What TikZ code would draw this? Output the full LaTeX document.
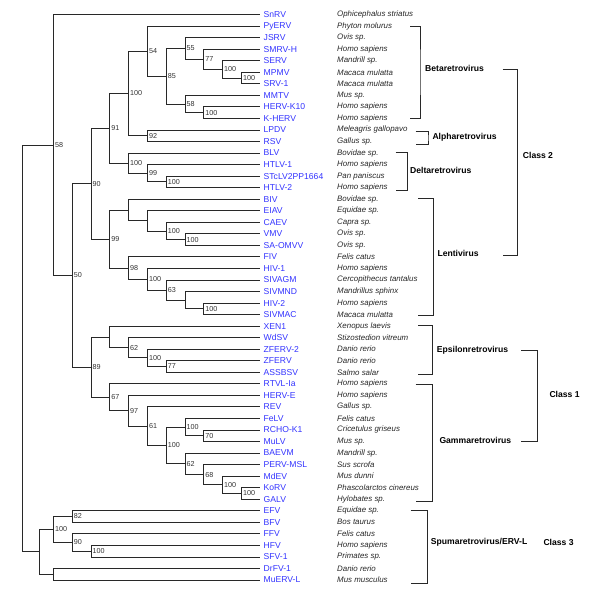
\documentclass[tikz,border=0pt]{standalone}
\usepackage{fontspec}
\setmainfont{Liberation Sans}
\definecolor{leafblue}{RGB}{51,51,255}
\definecolor{linegray}{RGB}{40,40,40}
\begin{document}
\begin{tikzpicture}[x=1pt,y=-1pt,
  leaf/.style={anchor=west,inner xsep=3.5pt,inner ysep=0pt,text=leafblue,font=\fontsize{8.6}{9}\selectfont},
  species/.style={anchor=west,inner sep=0pt,font=\fontsize{7.9}{9}\selectfont\itshape,text=black!85},
  boot/.style={anchor=west,inner sep=0.5pt,text=black!80,font=\fontsize{7.2}{8}\selectfont},
  group/.style={anchor=west,inner sep=0pt,font=\fontsize{8.6}{9}\selectfont\bfseries},
  branch/.style={draw=linegray,line width=0.75pt},
  brk/.style={draw=linegray,line width=0.75pt}]
\useasboundingbox (0,0) rectangle (602,600);

% leaves
\foreach \n/\lab/\sp [count=\i from 0] in {
 snrv/SnRV/Ophicephalus striatus,
 pyerv/PyERV/Phyton molurus,
 jsrv/JSRV/Ovis sp.,
 smrvh/SMRV-H/Homo sapiens,
 serv/SERV/Mandrill sp.,
 mpmv/MPMV/Macaca mulatta,
 srv1/SRV-1/Macaca mulatta,
 mmtv/MMTV/Mus sp.,
 hervk10/HERV-K10/Homo sapiens,
 kherv/K-HERV/Homo sapiens,
 lpdv/LPDV/Meleagris gallopavo,
 rsv/RSV/Gallus sp.,
 blv/BLV/Bovidae sp.,
 htlv1/HTLV-1/Homo sapiens,
 stclv/STcLV2PP1664/Pan paniscus,
 htlv2/HTLV-2/Homo sapiens,
 biv/BIV/Bovidae sp.,
 eiav/EIAV/Equidae sp.,
 caev/CAEV/Capra sp.,
 vmv/VMV/Ovis sp.,
 saomvv/SA-OMVV/Ovis sp.,
 fiv/FIV/Felis catus,
 hiv1/HIV-1/Homo sapiens,
 sivagm/SIVAGM/Cercopithecus tantalus,
 sivmnd/SIVMND/Mandrillus sphinx,
 hiv2/HIV-2/Homo sapiens,
 sivmac/SIVMAC/Macaca mulatta,
 xen1/XEN1/Xenopus laevis,
 wdsv/WdSV/Stizostedion vitreum,
 zferv2/ZFERV-2/Danio rerio,
 zferv/ZFERV/Danio rerio,
 assbsv/ASSBSV/Salmo salar,
 rtvl/RTVL-Ia/Homo sapiens,
 herve/HERV-E/Homo sapiens,
 rev/REV/Gallus sp.,
 felv/FeLV/Felis catus,
 rcho/RCHO-K1/Cricetulus griseus,
 mulv/MuLV/Mus sp.,
 baevm/BAEVM/Mandrill sp.,
 perv/PERV-MSL/Sus scrofa,
 mdev/MdEV/Mus dunni,
 korv/KoRV/Phascolarctos cinereus,
 galv/GALV/Hylobates sp.,
 efv/EFV/Equidae sp.,
 bfv/BFV/Bos taurus,
 ffv/FFV/Felis catus,
 hfv/HFV/Homo sapiens,
 sfv1/SFV-1/Primates sp.,
 drfv/DrFV-1/Danio rerio,
 muerv/MuERV-L/Mus musculus}
{
 \node[leaf] (\n) at (260,{14.5+11.54*\i}) {\lab};
 \node[species] (\n-sp) at (337,{14.5+11.54*\i}) {\sp};
}

% internal nodes: x levels
\def\La{53.3}\def\Lb{72.1}\def\Lc{90.9}\def\Ld{109.7}\def\Le{128.5}\def\Lf{147.3}
\def\Lg{166.1}\def\Lh{184.9}\def\Li{203.7}\def\Lj{222.5}\def\Lk{241.3}
\coordinate (root) at (22,348.38);
\coordinate (SP) at (39.3,551.83);
\coordinate (A) at (\La,144.92);
\coordinate (B) at (\Lb,275.35);
\coordinate (C) at (\Lc,183.61);
\coordinate (D) at (\Lc,367.08);
\coordinate (E) at (\Ld,128.23);
\coordinate (F) at (\Ld,238.99);
\coordinate (G) at (\Le,93.39);
\coordinate (H) at (\Le,163.08);
\coordinate (I) at (\Lf,51.10);
\coordinate (J) at (\Lf,135.67);
\coordinate (K) at (\Lg,76.17);
\coordinate (L) at (\Lh,48.40);
\coordinate (M) at (\Lh,103.94);
\coordinate (N) at (\Li,59.22);
\coordinate (O) at (\Lj,69.32);
\coordinate (P) at (\Lk,77.97);
\coordinate (Q) at (\Li,112.59);
\coordinate (R) at (\Lf,173.18);
\coordinate (S) at (\Lg,181.83);
\coordinate (T) at (\Le,209.96);
\coordinate (V) at (\Lf,220.78);
\coordinate (W) at (\Lg,230.88);
\coordinate (X) at (\Lh,239.53);
\coordinate (U) at (\Le,268.02);
\coordinate (Y) at (\Lf,279.20);
\coordinate (Z) at (\Lg,290.02);
\coordinate (AA) at (\Lh,300.12);
\coordinate (AB) at (\Li,308.77);
\coordinate (AC) at (\Ld,336.90);
\coordinate (AE) at (\Le,347.72);
\coordinate (AF) at (\Lf,357.82);
\coordinate (AG) at (\Lg,366.47);
\coordinate (AD) at (\Ld,397.26);
\coordinate (AH) at (\Le,410.74);
\coordinate (AI) at (\Lf,426.16);
\coordinate (AJ) at (\Lg,445.45);
\coordinate (AK) at (\Lh,427.06);
\coordinate (AM) at (\Li,435.71);
\coordinate (AL) at (\Lh,463.84);
\coordinate (AN) at (\Li,474.66);
\coordinate (AO) at (\Lj,484.76);
\coordinate (AP) at (\Lk,493.41);
\coordinate (AQ) at (\La,529.47);
\coordinate (AR) at (\La,574.19);
\coordinate (AS) at (\Lb,516.49);
\coordinate (AT) at (\Lb,542.46);
\coordinate (AU) at (\Lc,551.11);

% branches
\foreach \p/\c in {root/A,root/SP,
 A/snrv.west,A/B,
 B/C,B/D,
 C/E,C/F,
 E/G,E/H,
 G/I,G/J,
 I/pyerv.west,I/K,
 K/L,K/M,
 L/jsrv.west,L/N,
 N/smrvh.west,N/O,
 O/serv.west,O/P,
 P/mpmv.west,P/srv1.west,
 M/mmtv.west,M/Q,
 Q/hervk10.west,Q/kherv.west,
 J/lpdv.west,J/rsv.west,
 H/blv.west,H/R,
 R/htlv1.west,R/S,
 S/stclv.west,S/htlv2.west,
 F/T,F/U,
 T/biv.west,T/V,
 V/eiav.west,V/W,
 W/caev.west,W/X,
 X/vmv.west,X/saomvv.west,
 U/fiv.west,U/Y,
 Y/hiv1.west,Y/Z,
 Z/sivagm.west,Z/AA,
 AA/sivmnd.west,AA/AB,
 AB/hiv2.west,AB/sivmac.west,
 D/AC,D/AD,
 AC/xen1.west,AC/AE,
 AE/wdsv.west,AE/AF,
 AF/zferv2.west,AF/AG,
 AG/zferv.west,AG/assbsv.west,
 AD/rtvl.west,AD/AH,
 AH/herve.west,AH/AI,
 AI/rev.west,AI/AJ,
 AJ/AK,AJ/AL,
 AK/felv.west,AK/AM,
 AM/rcho.west,AM/mulv.west,
 AL/baevm.west,AL/AN,
 AN/perv.west,AN/AO,
 AO/mdev.west,AO/AP,
 AP/korv.west,AP/galv.west,
 SP/AQ,SP/AR,
 AQ/AS,AQ/AT,
 AS/efv.west,AS/bfv.west,
 AT/ffv.west,AT/AU,
 AU/hfv.west,AU/sfv1.west,
 AR/drfv.west,AR/muerv.west}
{ \draw[branch] (\p) |- (\c); }

% bootstrap values
\foreach \c/\v in {A/58,B/50,C/90,D/89,E/91,F/99,G/100,H/100,I/54,J/92,K/85,
 L/55,M/58,N/77,O/100,P/100,Q/100,R/99,S/100,U/98,W/100,X/100,Y/100,Z/63,
 AB/100,AD/67,AE/62,AF/100,AG/77,AH/97,AI/61,AJ/100,AK/100,AL/62,AM/70,
 AN/68,AO/100,AP/100,AQ/100,AS/82,AT/90,AU/100}
{ \node[boot] (bv-\c) at ([xshift=1pt]\c) {\v}; }

% group brackets
\coordinate (beta-t) at (410,26); \coordinate (beta-b) at (410,118.5);
\draw[brk] (beta-t) -| (420,72) |- (beta-b);
\node[group] (beta) at (425,68) {Betaretrovirus};

\coordinate (alpha-t) at (415.7,131); \coordinate (alpha-b) at (415.7,144.3);
\draw[brk] (alpha-t) -| (428,138) |- (alpha-b);
\node[group] (alpha) at (432.3,137) {Alpharetrovirus};

\coordinate (delta-t) at (395.7,152.3); \coordinate (delta-b) at (395.7,190.7);
\draw[brk] (delta-t) -| (407.3,170) |- (delta-b);
\node[group] (delta) at (410,170) {Deltaretrovirus};

\coordinate (lenti-t) at (418.3,198.3); \coordinate (lenti-b) at (418.3,315.7);
\draw[brk] (lenti-t) -| (433.3,255) |- (lenti-b);
\node[group] (lenti) at (437.3,253.5) {Lentivirus};

\coordinate (eps-t) at (418.3,325.7); \coordinate (eps-b) at (418.3,374.3);
\draw[brk] (eps-t) -| (432.7,350) |- (eps-b);
\node[group] (eps) at (436.7,350) {Epsilonretrovirus};

\coordinate (gamma-t) at (415.7,384.3); \coordinate (gamma-b) at (415.7,501.7);
\draw[brk] (gamma-t) -| (432.3,440) |- (gamma-b);
\node[group] (gamma) at (439.3,440.7) {Gammaretrovirus};

\coordinate (spuma-t) at (410.7,510.3); \coordinate (spuma-b) at (410.7,583.3);
\draw[brk] (spuma-t) -| (427.3,546) |- (spuma-b);
\node[group] (spuma) at (430.7,542.7) {Spumaretrovirus/ERV-L};

% class brackets
\coordinate (c2-t) at (502.7,69.3); \coordinate (c2-b) at (503,255.7);
\draw[brk] (c2-t) -| (517.3,160) |- (c2-b);
\node[group] (class2) at (522.7,155) {Class 2};

\coordinate (c1-t) at (521,350); \coordinate (c1-b) at (521,441.7);
\draw[brk] (c1-t) -| (537.3,395) |- (c1-b);
\node[group] (class1) at (549.3,394.3) {Class 1};

\node[group] (class3) at (543.3,542) {Class 3};
\end{tikzpicture}
\end{document}
